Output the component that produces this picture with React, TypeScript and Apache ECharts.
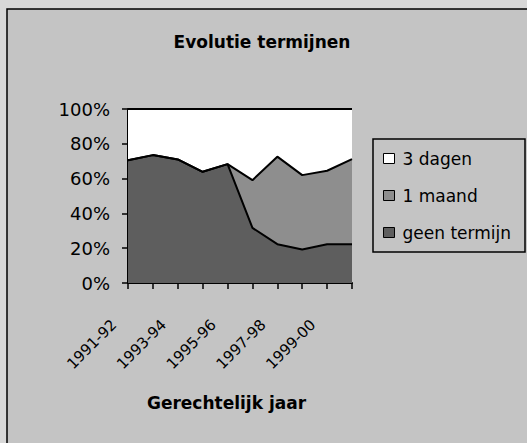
import React, { useEffect, useRef } from "react";
import * as echarts from "echarts";

const categories = ["1991-92", "1992-93", "1993-94", "1994-95", "1995-96", "1996-97", "1997-98", "1998-99", "1999-00", "2000-01"];
const geenTermijn = [70.6, 73.5, 71.0, 63.9, 68.3, 31.7, 22.3, 19.2, 22.3, 22.3];
const eenMaand = [0, 0, 0, 0, 0, 27.4, 50.3, 42.8, 42.2, 48.9];
const drieDagen = [29.4, 26.5, 29.0, 36.1, 31.7, 40.9, 27.4, 38.0, 35.5, 28.8];
const seriesNames = ["geen termijn", "1 maand", "3 dagen"];
const legendOrder = ["3 dagen", "1 maand", "geen termijn"];
const fills: Record<string, string> = { "geen termijn": "#5e5e5e", "1 maand": "#8e8e8e", "3 dagen": "#ffffff" };

const FONT = "DejaVu Sans";

export default function App() {
  const ref = useRef<HTMLDivElement>(null);
  useEffect(() => {
    const chart = echarts.init(ref.current!, null, { renderer: "svg" });
    const values = [geenTermijn, eenMaand, drieDagen];
    chart.setOption({
      animation: false,
      backgroundColor: "#d8d8d8",
      title: {
        text: "Evolutie termijnen",
        left: 257,
        top: 28,
        textAlign: "center",
        textStyle: { fontFamily: FONT, fontSize: 17, fontWeight: "bold", color: "#000" },
      },
      graphic: [
        {
          type: "rect",
          z: -10,
          shape: { x: 7, y: 9, width: 540, height: 450 },
          style: { fill: "#c4c4c4", stroke: "#000", lineWidth: 1.5 },
        },
        {
          type: "rect",
          z: -5,
          shape: { x: 373, y: 139, width: 152, height: 113 },
          style: { fill: "none", stroke: "#000", lineWidth: 1.5 },
        },
        {
          type: "text",
          x: 226.5,
          y: 403,
          style: {
            text: "Gerechtelijk jaar",
            fontFamily: FONT,
            fontSize: 17,
            fontWeight: "bold",
            fill: "#000",
            align: "center",
            verticalAlign: "middle",
          },
        },
      ],
      legend: {
        orient: "vertical",
        left: 383,
        top: 150,
        padding: 0,
        itemWidth: 11,
        itemHeight: 10,
        itemGap: 20,
        icon: "rect",
        textStyle: { fontFamily: FONT, fontSize: 17, lineHeight: 17, color: "#000", padding: [0, 0, 0, 3] },
        data: legendOrder.map((n) => ({
          name: n,
          itemStyle: { color: fills[n], borderColor: "#000", borderWidth: 1 },
        })),
      },
      grid: { left: 128, top: 109, width: 224, height: 174, containLabel: false },
      xAxis: {
        type: "category",
        data: categories,
        boundaryGap: false,
        axisLine: { show: true, lineStyle: { color: "#000", width: 2 } },
        axisTick: { show: true, inside: false, length: 6, interval: 0, lineStyle: { color: "#000", width: 1.5 } },
        axisLabel: {
          interval: 1,
          rotate: 45,
          margin: 25,
          padding: [0, 20, 0, 0],
          fontFamily: FONT,
          fontSize: 15,
          color: "#000",
        },
        splitLine: { show: false },
      },
      yAxis: {
        type: "value",
        min: 0,
        max: 100,
        interval: 20,
        axisLine: { show: true, lineStyle: { color: "#000", width: 2 } },
        axisTick: { show: true, inside: false, length: 6, lineStyle: { color: "#000", width: 1.5 } },
        axisLabel: { formatter: "{value}%", margin: 18, fontFamily: FONT, fontSize: 18, color: "#000" },
        splitLine: { show: false },
      },
      series: seriesNames.map((name, i) => ({
        name,
        type: "line",
        stack: "total",
        data: values[i],
        symbol: "none",
        lineStyle: { color: "#000", width: 2 },
        itemStyle: { color: fills[name], borderColor: "#000" },
        areaStyle: { color: fills[name], opacity: 1 },
      })),
    });
    return () => chart.dispose();
  }, []);
  return (
    <div
      ref={ref}
      style={{ position: "fixed", left: 0, top: 0, width: 527, height: 443 }}
    />
  );
}
